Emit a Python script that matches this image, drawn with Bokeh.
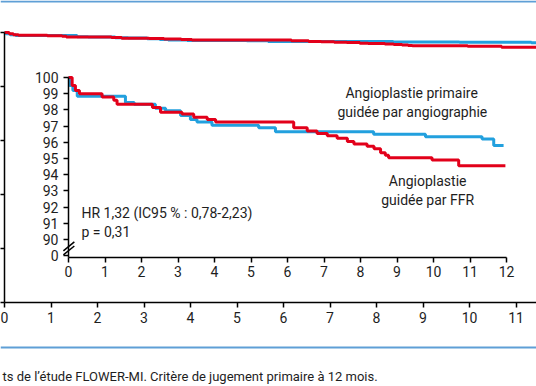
from bokeh.plotting import figure
from bokeh.models import Range1d, LinearAxis, FixedTicker, Span, Label
from bokeh.embed import file_html
from bokeh.resources import INLINE

# ---- data ----
months = list(range(0, 13))
outer_y_ticks = [0, 20, 40, 60, 80, 100]
inset_y_ticks = [89, 90, 91, 92, 93, 94, 95, 96, 97, 98, 99, 100]
inset_y_labels = {89: "0"}          # broken axis: position 89 shows 0

ffr_t = [0, 0.10, 0.19, 0.30, 0.92, 1.24, 1.33, 2.30, 2.52, 3.11, 3.43, 3.80, 4.03,
         6.17, 6.54, 6.81, 7.09, 7.36, 7.64, 7.82, 8.18, 8.37, 8.55, 8.68, 8.77,
         9.96, 10.69, 11.97]
ffr_v = [100, 99.5, 99.2, 99.0, 98.8, 98.6, 98.35, 98.15, 97.85, 97.75, 97.55, 97.4,
         97.25, 96.9, 96.7, 96.55, 96.4, 96.25, 96.05, 95.9, 95.75, 95.6, 95.35, 95.2,
         95.05, 94.9, 94.55, 94.55]
angio_t = [0, 0.03, 0.12, 0.24, 1.56, 1.80, 2.38, 2.66, 3.07, 3.34, 3.52, 3.93, 5.21,
           5.67, 8.36, 9.78, 11.33, 11.65, 11.92]
angio_v = [100, 99.5, 99.2, 98.85, 98.45, 98.35, 98.1, 97.95, 97.65, 97.4, 97.25, 97.05,
           96.9, 96.65, 96.5, 96.35, 96.2, 95.8, 95.8]

RED = "#e2001a"
BLUE = "#22a0de"
FRAME_BLUE = "#5f9fd6"
TXT = "#1e1e1e"
FONT = "Roboto"

W, H = 536, 386
p = figure(width=W, height=H, output_backend="svg", toolbar_location=None,
           x_axis_type=None, y_axis_type=None,
           x_range=Range1d(-4 / 46.5, 532 / 46.5),
           y_range=Range1d(-31.11, 111.85),
           min_border=0, outline_line_color=None)
p.extra_x_ranges = {"ix": Range1d(-68 / 36.5, 468 / 36.5)}
p.extra_y_ranges = {"iy": Range1d(80.926, 104.753)}

# outer curves
p.step(angio_t, angio_v, mode="after", line_color=BLUE, line_width=3)
p.step(ffr_t, ffr_v, mode="after", line_color=RED, line_width=3)
# inset curves
p.step(angio_t, angio_v, mode="after", line_color=BLUE, line_width=3,
       x_range_name="ix", y_range_name="iy")
p.step(ffr_t, ffr_v, mode="after", line_color=RED, line_width=3,
       x_range_name="ix", y_range_name="iy")


def style(ax):
    ax.axis_line_color = "black"
    ax.axis_line_width = 1.5
    ax.major_tick_line_color = "black"
    ax.major_tick_line_width = 1.5
    ax.major_tick_in = 0
    ax.major_tick_out = 5
    ax.minor_tick_line_color = None
    ax.major_label_text_font = FONT
    ax.major_label_text_font_size = "14px"
    ax.major_label_text_color = TXT
    ax.major_label_standoff = 4


ox = LinearAxis(fixed_location=0, bounds=(0, 12), ticker=FixedTicker(ticks=months))
style(ox)
p.add_layout(ox, "below")
oy = LinearAxis(fixed_location=0, bounds=(0, 100), ticker=FixedTicker(ticks=outer_y_ticks),
                major_label_overrides={t: "" for t in outer_y_ticks})
style(oy)
p.add_layout(oy, "left")

ix = LinearAxis(x_range_name="ix", y_range_name="iy", fixed_location=88.9,
                bounds=(0, 12), ticker=FixedTicker(ticks=months))
style(ix)
p.add_layout(ix, "below")
iy = LinearAxis(x_range_name="ix", y_range_name="iy", fixed_location=0,
                bounds=(88.9, 100), ticker=FixedTicker(ticks=inset_y_ticks),
                major_label_overrides=inset_y_labels)
style(iy)
iy.major_label_standoff = 5
p.add_layout(iy, "left")

# axis break marks
p.segment(x0=[-0.14, -0.14], y0=[89.3, 89.05], x1=[0.16, 0.16], y1=[89.85, 89.6],
          line_color="black", line_width=1.5, x_range_name="ix", y_range_name="iy")

# frame lines of the page
p.add_layout(Span(location=111.5, dimension="width", line_color=FRAME_BLUE, line_width=2))
p.add_layout(Span(location=-16.67, dimension="width", line_color=FRAME_BLUE, line_width=2))


def lab(x, y, text, align="left", size="14px", rn=True):
    kw = dict(x_range_name="ix", y_range_name="iy") if rn else {}
    p.add_layout(Label(x=x, y=y, text=text, text_align=align, text_baseline="middle",
                       text_font=FONT, text_font_size=size, text_color=TXT, **kw))


lab(9.40, 99.07, "Angioplastie primaire", "center")
lab(9.42, 97.84, "guidée par angiographie", "center")
lab(9.84, 93.64, "Angioplastie", "center")
lab(9.84, 92.41, "guidée par FFR", "center")
lab(0.356, 91.62, "HR 1,32 (IC95 % : 0,78-2,23)")
lab(0.356, 90.45, "p = 0,31")
lab(-2 / 46.5, -27.4, "ts de l’étude FLOWER-MI. Critère de jugement primaire à 12 mois.",
    size="13px", rn=False)

open("out.html", "w").write(file_html(p, INLINE))
